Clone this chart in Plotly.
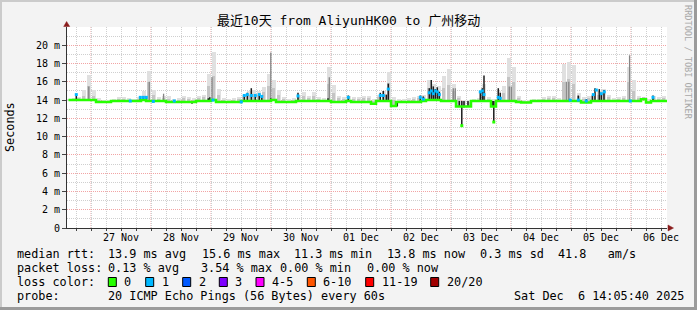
import pandas as pd
import plotly.graph_objects as go

# ---------------- data ----------------
BIN_START = "2025-11-26 15:00"   # centre of first 2-hour bin
median_ms = [
    14.0, 14.0, 14.0, 14.0, 14.0, 14.0, 13.8, 13.8, 13.8, 13.9,
    13.9, 13.9, 13.9, 13.9, 13.9, 14.0, 13.9, 13.9, 13.9, 13.9,
    13.8, 13.8, 13.8, 13.8, 13.8, 13.8, 13.9, 13.9, 13.9, 14.0,
    13.8, 13.8, 13.8, 13.8, 13.8, 13.9, 13.9, 13.9, 13.9, 13.9,
    13.9, 14.0, 13.8, 13.8, 13.8, 13.8, 13.9, 13.9, 13.9, 13.9,
    13.9, 13.9, 13.9, 13.8, 13.8, 13.8, 13.9, 13.8, 13.8, 13.8,
    13.8, 13.6, 13.9, 13.9, 13.9, 13.35, 13.8, 13.8, 13.8, 13.8,
    13.8, 13.9, 14.0, 14.0, 14.0, 13.9, 13.9, 13.9, 13.3, 13.3,
    13.3, 13.9, 13.9, 13.9, 13.9, 13.3, 13.9, 13.9, 13.9, 13.9,
    13.8, 13.75, 13.75, 13.9, 13.9, 13.9, 13.9, 13.9, 13.9, 13.9,
    13.9, 13.9, 13.9, 13.75, 13.75, 13.9, 13.9, 13.9, 13.9, 13.9,
    13.9, 13.9, 13.9, 13.9, 13.9, 14.1, 13.75, 13.9, 13.9, 13.9,
    13.9,
]
smoke_max_ms = [
    14.1, 14.2, 14.3, 15.1, 16.8, 15.1, 14.2, 14.0, 14.0, 14.1,
    14.3, 14.3, 14.2, 14.1, 14.3, 15.0, 17.2, 15.1, 14.3, 14.4,
    14.4, 14.1, 14.2, 14.5, 14.3, 14.2, 14.4, 14.6, 16.9, 19.3,
    15.2, 14.2, 14.1, 14.2, 14.3, 14.6, 15.0, 15.1, 15.0, 15.4,
    16.9, 16.2, 15.1, 14.3, 14.1, 14.2, 14.6, 14.9, 14.5, 14.9,
    14.3, 14.2, 17.6, 15.6, 14.5, 14.3, 14.5, 14.3, 14.3, 14.4,
    14.5, 14.1, 14.6, 15.0, 17.1, 14.3, 14.1, 14.1, 14.2, 14.3,
    14.4, 14.6, 16.2, 15.8, 15.5, 16.6, 17.4, 15.8, 14.5, 14.0,
    14.0, 14.1, 14.2, 15.8, 14.3, 14.1, 15.0, 15.5, 18.6, 17.6,
    14.4, 14.0, 14.0, 14.1, 14.1, 14.3, 14.5, 14.4, 14.2, 18.0,
    18.2, 17.8, 14.8, 14.3, 14.4, 14.8, 15.0, 15.2, 14.6, 14.2,
    14.3, 14.5, 17.6, 16.2, 14.4, 14.3, 14.1, 14.4, 14.3, 14.5,
    14.2,
]
smoke_mid_ms = [
    14.0, 14.1, 14.2, 14.5, 15.5, 14.5, 14.0, 13.9, 13.9, 14.0,
    14.1, 14.1, 14.0, 14.0, 14.1, 14.4, 16.0, 14.6, 14.1, 14.2,
    14.1, 13.9, 14.0, 14.2, 14.1, 14.0, 14.2, 14.3, 15.5, 16.6,
    14.6, 14.0, 13.9, 14.0, 14.1, 14.3, 14.6, 14.7, 14.6, 14.9,
    15.5, 15.3, 14.6, 14.1, 13.9, 14.0, 14.3, 14.5, 14.2, 14.5,
    14.1, 14.0, 15.8, 14.8, 14.2, 14.1, 14.3, 14.1, 14.1, 14.2,
    14.2, 13.9, 14.3, 14.6, 15.9, 14.0, 13.9, 13.9, 14.0, 14.1,
    14.2, 14.3, 15.3, 15.2, 15.0, 15.3, 15.6, 15.0, 14.2, 13.8,
    13.8, 14.0, 14.0, 15.0, 14.1, 13.9, 14.5, 14.8, 16.5, 16.0,
    14.2, 13.9, 13.9, 14.0, 14.0, 14.1, 14.2, 14.2, 14.0, 16.0,
    16.3, 15.8, 14.4, 14.1, 14.2, 14.5, 14.6, 14.7, 14.3, 14.0,
    14.1, 14.2, 16.0, 15.0, 14.2, 14.3, 13.9, 14.2, 14.1, 14.2,
    14.0,
]

# dense (near-black) smoke strokes
stroke_time = [
    "2025-11-26 18:07", "2025-11-27 19:43", "2025-11-27 20:55", "2025-11-27 22:07",
    "2025-11-28 16:24", "2025-11-28 22:55", "2025-11-28 23:31",
    "2025-11-29 13:19", "2025-11-29 14:31", "2025-11-29 16:07", "2025-11-29 17:43",
    "2025-11-29 19:19", "2025-11-29 20:19", "2025-11-29 23:55",
    "2025-11-30 10:48", "2025-11-30 22:48", "2025-12-01 06:55",
    "2025-12-01 19:43", "2025-12-01 20:55", "2025-12-01 22:07", "2025-12-01 22:55",
    "2025-12-02 00:07", "2025-12-02 02:31", "2025-12-02 11:43", "2025-12-02 12:55",
    "2025-12-02 15:19", "2025-12-02 16:07", "2025-12-02 16:55", "2025-12-02 17:43",
    "2025-12-02 18:31", "2025-12-02 19:19",
    "2025-12-03 03:19", "2025-12-03 04:19", "2025-12-03 05:12", "2025-12-03 06:48",
    "2025-12-03 11:43", "2025-12-03 12:31", "2025-12-03 13:12",
    "2025-12-03 16:31", "2025-12-03 17:07", "2025-12-03 18:55", "2025-12-03 19:43",
    "2025-12-05 02:55", "2025-12-05 06:07", "2025-12-05 08:31", "2025-12-05 09:36",
    "2025-12-05 11:19", "2025-12-05 12:07", "2025-12-05 13:12", "2025-12-06 08:48",
]
stroke_lo = [
    13.9, 13.9, 13.9, 13.9,
    13.6, 13.9, 13.9,
    13.8, 13.9, 13.9, 13.9,
    13.9, 13.9, 13.9,
    13.9, 14.0, 13.9,
    13.9, 13.9, 13.9, 13.9,
    13.3, 13.3, 13.9, 13.9,
    13.9, 13.9, 14.0, 13.9,
    13.9, 13.9,
    13.3, 11.2, 13.2, 13.3,
    13.9, 13.9, 13.9,
    13.3, 11.6, 13.9, 13.9,
    13.9, 13.8, 13.9, 13.9,
    13.9, 13.9, 13.8, 13.9,
]
stroke_hi = [
    14.6, 14.3, 14.4, 14.3,
    13.9, 14.2, 14.3,
    14.6, 14.8, 15.3, 14.6,
    14.7, 14.4, 14.2,
    14.8, 14.2, 14.5,
    14.8, 15.0, 14.6, 15.8,
    14.0, 13.9, 14.5, 14.4,
    15.3, 16.2, 15.5, 15.2,
    15.4, 14.9,
    13.9, 13.9, 13.9, 13.9,
    14.9, 15.3, 16.7,
    13.9, 13.9, 15.3, 14.8,
    14.5, 14.1, 14.5, 15.3,
    15.2, 14.8, 15.1, 14.5,
]

# darker grey smoke streaks inside the daily peaks
grey_time = [
    "2025-11-26 23:07", "2025-11-27 23:19", "2025-11-28 05:02", "2025-11-29 00:24",
    "2025-11-29 23:55", "2025-11-30 23:19", "2025-12-03 00:55", "2025-12-03 01:43",
    "2025-12-03 23:19", "2025-12-04 00:07", "2025-12-04 22:07", "2025-12-04 23:07",
    "2025-12-05 23:26",
]
grey_lo = [13.9, 13.9, 13.9, 13.9, 13.9, 13.9, 14.0, 14.0, 13.9, 13.9, 13.9, 13.9, 13.9]
grey_hi = [15.5, 16.0, 14.7, 16.5, 19.2, 16.5, 15.3, 15.3, 15.5, 15.5, 16.0, 16.0, 18.9]

# median samples with their loss count (coloured markers)
loss_time = [
    "2025-11-26 18:07", "2025-11-27 15:43", "2025-11-27 19:43", "2025-11-27 20:55",
    "2025-11-27 22:07", "2025-11-28 00:55", "2025-11-28 09:19", "2025-11-29 00:48",
    "2025-11-29 12:07", "2025-11-29 13:19", "2025-11-29 14:31", "2025-11-29 16:07",
    "2025-11-29 17:43", "2025-11-29 19:19", "2025-11-29 20:19", "2025-11-30 10:48",
    "2025-12-01 06:55", "2025-12-01 19:43", "2025-12-01 20:55", "2025-12-01 22:55",
    "2025-12-02 11:43", "2025-12-02 12:55", "2025-12-02 15:19", "2025-12-02 16:07",
    "2025-12-02 16:55", "2025-12-02 17:43", "2025-12-02 18:31", "2025-12-02 19:19",
    "2025-12-03 04:19", "2025-12-03 11:43", "2025-12-03 12:31", "2025-12-03 13:12",
    "2025-12-03 17:07", "2025-12-03 18:55", "2025-12-03 19:43", "2025-12-04 23:43",
    "2025-12-05 02:55", "2025-12-05 06:07", "2025-12-05 08:55", "2025-12-05 10:07",
    "2025-12-05 12:07", "2025-12-05 13:19", "2025-12-05 23:43", "2025-12-06 08:48",
]
loss_rtt = [
    14.6, 13.9, 14.3, 14.3,
    14.3, 13.85, 13.9, 14.0,
    13.8, 14.5, 14.6, 14.5,
    14.5, 14.6, 14.4, 14.45,
    14.3, 14.5, 14.5, 15.2,
    14.3, 14.1, 14.8, 15.0,
    14.7, 15.0, 14.9, 14.6,
    11.2, 14.9, 15.0, 14.6,
    11.6, 14.3, 14.2, 14.0,
    14.0, 13.9, 14.6, 15.1,
    14.7, 14.9, 13.9, 14.3,
]
loss_count = [
    1, 1, 1, 1, 1, 1, 1, 1, 1, 1, 1, 1, 1, 1, 1, 1, 1, 1, 1, 1, 1, 1,
    1, 1, 1, 1, 1, 1, 0, 1, 1, 1, 0, 1, 1, 1, 1, 1, 1, 1, 1, 1, 1, 1,
]

day_ticks = ["2025-11-%02d 12:00" % d for d in (27, 28, 29, 30)] + \
            ["2025-12-%02d 12:00" % d for d in (1, 2, 3, 4, 5, 6)]
day_labels = ["27 Nov", "28 Nov", "29 Nov", "30 Nov", "01 Dec",
              "02 Dec", "03 Dec", "04 Dec", "05 Dec", "06 Dec"]
y_ticks = [0, 2, 4, 6, 8, 10, 12, 14, 16, 18, 20]
y_labels = ["0", "2 m", "4 m", "6 m", "8 m", "10 m", "12 m", "14 m", "16 m", "18 m", "20 m"]

loss_names = ["0", "1", "2", "3", "4-5", "6-10", "11-19", "20/20"]
loss_colors = ["#26ff00", "#00b8ff", "#0059ff", "#7e00ff",
               "#ff00ff", "#ff5500", "#ff0000", "#a10000"]

title_text = "最近10天 from AliyunHK00 to 广州移动"
stats_rtt = [("median rtt:", 16), ("13.9 ms avg", 107.3), ("15.6 ms max", 200.6),
             ("11.3 ms min", 293), ("13.8 ms now", 385.5), ("0.3 ms sd", 478.5),
             ("41.8   am/s", 556.5)]
stats_loss = [("packet loss:", 16), ("0.13 % avg", 107.3), ("3.54 % max", 200),
              ("0.00 % min", 279.3), ("0.00 % now", 365.7)]
probe_text = [("probe:", 16), ("20 ICMP Echo Pings (56 Bytes) every 60s", 107.3),
              ("Sat Dec  6 14:05:40 2025", 513.3)]
legend_box_x = [108.3, 145.7, 182.7, 219.3, 256.0, 307.3, 365.7, 430.7]

# ---------------- figure ----------------
W, H = 697, 310
PL, PR, PT, PB = 67, 667, 27, 228
MONO = "DejaVu Sans Mono, Noto Sans CJK SC"


def px(x, y):
    return (x - PL) / (PR - PL), (PB - y) / (PB - PT)


def loss_color(n):
    if n <= 3:
        return loss_colors[n]
    if n <= 5:
        return loss_colors[4]
    if n <= 10:
        return loss_colors[5]
    if n <= 19:
        return loss_colors[6]
    return loss_colors[7]


times = pd.date_range(BIN_START, periods=len(median_ms), freq="2h")
bin_ms = 2 * 3600 * 1000

fig = go.Figure()
fig.add_trace(go.Bar(x=times, y=[a - b for a, b in zip(smoke_max_ms, median_ms)],
                     base=median_ms, width=bin_ms * 0.8, marker_color="#e0e0e0",
                     marker_line_width=0, hoverinfo="skip"))
fig.add_trace(go.Bar(x=times, y=[a - b for a, b in zip(smoke_mid_ms, median_ms)],
                     base=median_ms, width=bin_ms * 0.5, marker_color="#c4c4c4",
                     marker_line_width=0, hoverinfo="skip"))


def segs(ts, lo, hi):
    xs, ys = [], []
    for t, a, b in zip(ts, lo, hi):
        xs += [t, t, None]
        ys += [a, b, None]
    return xs, ys


gx, gy = segs(grey_time, grey_lo, grey_hi)
fig.add_trace(go.Scatter(x=gx, y=gy, mode="lines", line=dict(color="#858585", width=1.3),
                         hoverinfo="skip"))
sx, sy = segs(stroke_time, stroke_lo, stroke_hi)
fig.add_trace(go.Scatter(x=sx, y=sy, mode="lines", line=dict(color="#1c1c1c", width=1.5),
                         hoverinfo="skip"))
fig.add_trace(go.Scatter(x=times, y=median_ms, mode="lines",
                         line=dict(color="#26ff00", width=2.5, shape="hvh"),
                         hoverinfo="skip"))
fig.add_trace(go.Scatter(x=loss_time, y=loss_rtt, mode="markers",
                         marker=dict(symbol="square", size=3,
                                     color=[loss_color(n) for n in loss_count],
                                     line_width=0),
                         hoverinfo="skip"))

GRID = "#cfcfcf"
MGRID = "#f2a4a4"
DOT = "1px,1px"

fig.update_layout(
    width=W, height=H,
    margin=dict(l=PL, r=W - PR, t=PT, b=H - PB, pad=0, autoexpand=False),
    paper_bgcolor="#f3f3f3", plot_bgcolor="#ffffff",
    showlegend=False, barmode="overlay", bargap=0,
    font=dict(family=MONO, color="#000000"),
)
fig.update_xaxes(
    type="date", range=["2025-11-26 14:24", "2025-12-06 14:24"],
    tickmode="array", tickvals=day_ticks, ticktext=day_labels,
    tickfont=dict(family=MONO, size=10, color="#000"),
    ticks="", showgrid=True, gridcolor=GRID, griddash=DOT, gridwidth=1,
    minor=dict(dtick=6 * 3600 * 1000, tick0="2025-11-27 00:00", showgrid=True,
               gridcolor=GRID, griddash=DOT, gridwidth=1,
               ticks="outside", ticklen=2, tickcolor="#444"),
    showline=True, linecolor="#333333", linewidth=1, zeroline=False,
)
fig.update_yaxes(
    range=[0, 22], tickmode="array", tickvals=y_ticks, ticktext=y_labels,
    tickfont=dict(family=MONO, size=10, color="#000"),
    ticks="outside", ticklen=4, tickcolor="#444",
    showgrid=True, gridcolor=MGRID, griddash=DOT, gridwidth=1,
    minor=dict(dtick=1, showgrid=True, gridcolor=GRID, griddash=DOT, gridwidth=1),
    showline=True, linecolor="#333333", linewidth=1, zeroline=False,
)

shapes = []
for d in pd.date_range("2025-11-27", periods=10, freq="D"):
    shapes.append(dict(type="line", xref="x", yref="paper", x0=d, x1=d, y0=0, y1=1,
                       line=dict(color=MGRID, width=1, dash=DOT), layer="below"))


def pline(x0, y0, x1, y1, color, w):
    a = px(x0, y0)
    b = px(x1, y1)
    return dict(type="line", xref="paper", yref="paper", x0=a[0], y0=a[1], x1=b[0], y1=b[1],
                line=dict(color=color, width=w))


shapes += [
    pline(0, 1, W, 1, "#cbcbcb", 2),
    pline(1, 0, 1, H, "#cbcbcb", 2),
    pline(0, H - 1.5, W, H - 1.5, "#9b9b9b", 3),
    pline(W - 1.5, 0, W - 1.5, H, "#9b9b9b", 3),
]


def tri(pts, color):
    p = [px(*q) for q in pts]
    path = "M %f,%f L %f,%f L %f,%f Z" % (p[0][0], p[0][1], p[1][0], p[1][1], p[2][0], p[2][1])
    return dict(type="path", xref="paper", yref="paper", path=path,
                fillcolor=color, line=dict(color=color, width=0.5))


shapes.append(tri([(63.7, 26.5), (69.7, 26.5), (66.6, 21.5)], "#8a1c1c"))
shapes.append(tri([(668, 225), (668, 231), (673.5, 228)], "#8a1c1c"))

for bx, col in zip(legend_box_x, loss_colors):
    a = px(bx, 277.5)
    b = px(bx + 8, 286.5)
    shapes.append(dict(type="rect", xref="paper", yref="paper", x0=a[0], y0=b[1],
                       x1=b[0], y1=a[1], fillcolor=col, line=dict(color="#000", width=1)))
fig.update_layout(shapes=shapes)

ann = []


def text(x, y, s, size=11.8, xanchor="left", color="#000", angle=0, family=MONO):
    p = px(x, y)
    ann.append(dict(xref="paper", yref="paper", x=p[0], y=p[1], text=s, showarrow=False,
                    xanchor=xanchor, yanchor="middle", textangle=angle,
                    font=dict(family=family, size=size, color=color), borderpad=0))


text(348.5, 21, title_text, size=13, xanchor="center")
text(10, 127, "Seconds", size=11.8, xanchor="center", angle=-90)
text(688, 62, "RRDTOOL / TOBI OETIKER", size=8.6, xanchor="center", angle=90, color="#a8a8a8")
for s, x in stats_rtt:
    text(x, 254.3, s)
for s, x in stats_loss:
    text(x, 268.3, s)
text(16, 282.3, "loss color:")
for bx, name in zip(legend_box_x, loss_names):
    text(bx + 15, 282.3, name)
for s, x in probe_text:
    text(x, 296, s)
fig.update_layout(annotations=ann)

fig.write_html("out.html")
